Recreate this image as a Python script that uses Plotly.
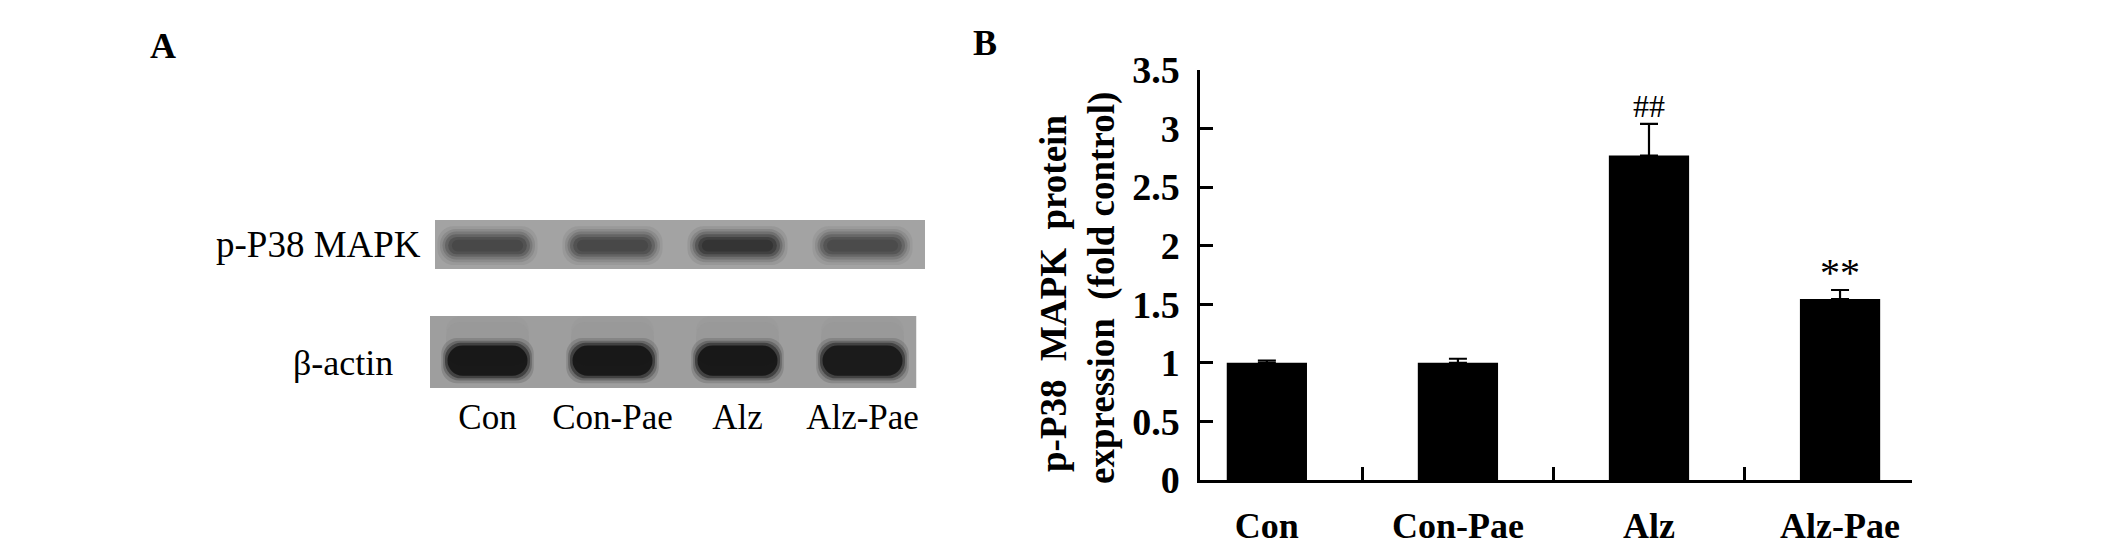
import plotly.graph_objects as go

# ---------------- data ----------------
groups = ["Con", "Con-Pae", "Alz", "Alz-Pae"]
p38_fold = [1.00, 1.00, 2.77, 1.545]
p38_err = [0.02, 0.035, 0.27, 0.077]
sig_marks = ["", "", "##", "**"]

row_labels = ["p-P38 MAPK", "β-actin"]
p38_band_density = [0.72, 0.72, 0.80, 0.71]
actin_band_density = [0.93, 0.93, 0.93, 0.92]

y_ticks = [0, 0.5, 1, 1.5, 2, 2.5, 3, 3.5]

# ---------------- helpers ----------------
W, H = 2126, 558
def fx(p):
    return p / W
def fy(p):
    return 1 - p / H

SERIF = "Liberation Serif, Times New Roman, serif"

def gray(d, alpha=1.0):
    v = int(round(255 * (1 - d)))
    return f"rgba({v},{v},{v},{alpha})"

fig = go.Figure()

# ---------------- panel B: bar chart ----------------
xpos = list(range(len(groups)))
fig.add_trace(go.Bar(
    x=xpos, y=p38_fold, width=0.42,
    marker=dict(color="black", line=dict(width=0)),
    error_y=dict(type="data", array=p38_err, arrayminus=[0] * len(groups),
                 symmetric=False, color="black", thickness=2.2, width=9),
    xaxis="x", yaxis="y", showlegend=False,
))

for i, m in enumerate(sig_marks):
    if not m:
        continue
    fig.add_annotation(
        x=xpos[i], y=p38_fold[i] + p38_err[i], xref="x", yref="y",
        text=m, showarrow=False, xanchor="center", yanchor="bottom",
        yshift=-2 if m == "##" else -7,
        font=dict(family=SERIF, size=32 if m == "##" else 40, color="black"),
    )

# ---------------- panel A: blot ----------------
lane = list(range(len(groups)))
p38_c, actin_c = 1.0, 0.0

fig.add_shape(type="rect", xref="x2", yref="y2", x0=-0.42, x1=3.5,
              y0=p38_c - 0.228, y1=p38_c + 0.228,
              fillcolor="#a3a3a3", line=dict(width=0), layer="below")
fig.add_shape(type="rect", xref="x2", yref="y2", x0=-0.46, x1=3.43,
              y0=actin_c - 0.335, y1=actin_c + 0.335,
              fillcolor="#9e9e9e", line=dict(width=0), layer="below")

def band(xs, center, height, width, colors, radius):
    fig.add_trace(go.Bar(
        x=xs, y=[height] * len(xs), base=[center - height / 2] * len(xs), width=width,
        marker=dict(color=colors, line=dict(width=0), cornerradius=radius),
        xaxis="x2", yaxis="y2", showlegend=False, hoverinfo="skip",
    ))

# p-P38 bands: soft layered blur
for hh, ww, a in [(0.36, 0.80, 0.10), (0.31, 0.76, 0.16), (0.26, 0.72, 0.26),
                  (0.21, 0.68, 0.40), (0.16, 0.63, 0.62), (0.11, 0.57, 0.85)]:
    band(lane, p38_c - 0.01, hh, ww, [gray(d, a) for d in p38_band_density], 16)

# beta-actin: faint smear above the dark band
for hh, a in [(0.46, 0.10), (0.36, 0.12)]:
    band(lane, actin_c + 0.10, hh, 0.66, [gray(d * 0.5, a) for d in actin_band_density], 14)
for hh, ww, a in [(0.42, 0.74, 0.15), (0.37, 0.71, 0.25), (0.33, 0.68, 0.45), (0.28, 0.64, 0.85)]:
    band(lane, actin_c - 0.08, hh, ww, [gray(d, a) for d in actin_band_density], 16)

# row labels
fig.add_annotation(x=fx(423), xref="paper", y=p38_c, yref="y2", text=row_labels[0],
                   showarrow=False, xanchor="right", yanchor="middle",
                   font=dict(family=SERIF, size=37, color="black"))
fig.add_annotation(x=fx(395), xref="paper", y=actin_c - 0.1, yref="y2", text=row_labels[1],
                   showarrow=False, xanchor="right", yanchor="middle",
                   font=dict(family=SERIF, size=36, color="black"))

# panel letters
fig.add_annotation(x=fx(163), y=fy(46), xref="paper", yref="paper", text="<b>A</b>",
                   showarrow=False, xanchor="center", yanchor="middle",
                   font=dict(family=SERIF, size=36, color="black"))
fig.add_annotation(x=fx(985), y=fy(43), xref="paper", yref="paper", text="<b>B</b>",
                   showarrow=False, xanchor="center", yanchor="middle",
                   font=dict(family=SERIF, size=36, color="black"))

# y-axis title for panel B (two lines)
fig.add_annotation(x=fx(1053), y=fy(294), xref="paper", yref="paper",
                   text="<b>p-P38\u00a0 MAPK\u00a0 protein</b>", textangle=-90,
                   showarrow=False, xanchor="center", yanchor="middle",
                   font=dict(family=SERIF, size=37, color="black"))
fig.add_annotation(x=fx(1102), y=fy(288), xref="paper", yref="paper",
                   text="<b>expression\u00a0 (fold control)</b>", textangle=-90,
                   showarrow=False, xanchor="center", yanchor="middle",
                   font=dict(family=SERIF, size=37, color="black"))

fig.update_layout(
    width=W, height=H,
    margin=dict(l=0, r=0, t=0, b=0, autoexpand=False),
    paper_bgcolor="white", plot_bgcolor="white",
    barmode="overlay", showlegend=False,
    xaxis=dict(
        domain=[fx(1200), fx(1911.5)], range=[-0.35, 3.374], anchor="y",
        automargin=False,
        tickmode="array", tickvals=xpos, ticktext=[f"<b>{g}</b>" for g in groups],
        ticks="", showline=True, linecolor="black", linewidth=2.5,
        showgrid=False, zeroline=False, ticklabelstandoff=12,
        tickfont=dict(family=SERIF, size=36, color="black"),
        minor=dict(tickmode="array", tickvals=[0.5, 1.5, 2.5], ticks="inside",
                   ticklen=13, tickwidth=2.5, tickcolor="black", showgrid=False),
    ),
    yaxis=dict(
        domain=[fy(480), fy(70)], range=[0, 3.5], anchor="x",
        automargin=False,
        tickmode="array", tickvals=y_ticks,
        ticktext=[f"<b>{t:g}</b>" for t in y_ticks],
        ticks="inside", ticklen=13, tickwidth=2.5, tickcolor="black",
        showline=True, linecolor="black", linewidth=2.5,
        showgrid=False, zeroline=False, ticklabelstandoff=10,
        tickfont=dict(family=SERIF, size=38, color="black"),
    ),
    xaxis2=dict(
        domain=[fx(425), fx(925)], range=[-0.5, 3.5], anchor="y2",
        automargin=False,
        tickmode="array", tickvals=lane, ticktext=groups,
        ticks="", showline=False, showgrid=False, zeroline=False,
        ticklabelstandoff=5,
        tickfont=dict(family=SERIF, size=35, color="black"),
    ),
    yaxis2=dict(
        domain=[fy(388), fy(220)], range=[-0.335, 1.228], anchor="x2",
        automargin=False, visible=False, showgrid=False, zeroline=False,
    ),
)

fig.write_html(
    "out.html",
    config={"displayModeBar": False},
    post_script="document.body.style.margin='0';document.body.style.overflow='hidden';",
)
